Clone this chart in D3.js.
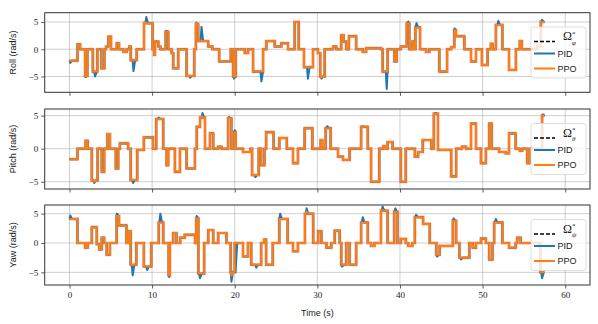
<!DOCTYPE html>
<html>
<head>
<meta charset="utf-8">
<script src="https://cdn.jsdelivr.net/npm/d3@7"></script>
<style>
  body { margin: 0; background: #fff; }
  svg { display: block; }
</style>
</head>
<body>
<div id="chart"></div>
<script>
// Reference set-points: [time (s), rate (rad/s)] held until the next entry
const rollRef = [
  [0, -2.1], [0.97, 0.9], [1.29, 0], [1.89, -4.9], [2.17, 0], [2.82, -4.1], [3.38, 0],
  [3.86, -3.5], [4.23, 0], [4.43, 0.5], [4.71, 2.3], [5.03, 0], [5.72, 1.1], [6.0, 0],
  [6.52, -0.5], [6.92, 0], [7.25, 0.5], [7.41, -2.0], [8.13, 0], [9.02, 4.75], [10.06, 0],
  [10.23, -1.0], [10.35, 1.4], [10.75, 0.5], [11.0, 0], [11.63, 3.2], [11.96, 0],
  [12.36, -0.7], [12.56, -3.5], [13.16, 0], [14.17, -4.9], [15.1, 0], [15.3, 4.6],
  [15.58, 1.5], [16.79, 0.5], [17.3, 0], [18.12, -2.25], [19.52, 0], [19.81, -5.0],
  [20.13, 0], [21.22, -0.7], [21.62, 0], [22.22, -4.1], [23.43, 0], [23.83, 1.5],
  [24.84, 0.5], [25.64, 1.1], [26.45, 0], [27.25, 5.0], [27.74, 0], [28.38, -3.3],
  [29.47, 0], [30.07, -0.7], [30.35, -5.0], [30.88, 0], [31.9, 0.5], [32.3, 0],
  [32.89, 2.6], [33.17, 1.4], [33.5, 0], [33.82, 2.4], [34.7, 0], [35.5, -0.5],
  [35.9, 0.2], [37.7, 0], [37.9, -4.1], [38.5, 0], [39.33, -2.25], [39.6, 0], [40.1, 0.5],
  [40.82, 4.75], [41.14, 0], [41.5, 1.4], [41.7, 0], [41.87, 4.0], [42.43, 0],
  [43.16, -0.5], [43.56, 0], [44.77, -4.1], [45.7, 0], [46.2, 0.4], [46.58, 3.5],
  [46.78, 2.4], [47.79, 0], [48.6, -2.25], [49.2, 0], [49.92, -2.9], [50.6, 0],
  [51.0, 1.0], [51.2, 0], [51.61, 4.45], [52.4, 0], [53.2, -3.8], [54.03, 0],
  [54.5, 1.5], [54.75, 0], [56.6, 0.5], [57.05, 5.0]
];
const pitchRef = [
  [0, -1.6], [0.97, 0], [1.95, 1.2], [2.2, 0], [2.7, -4.8], [3.4, 0], [3.9, -3.5],
  [4.2, 0], [4.6, 2.2], [4.9, 0], [5.6, -3.0], [5.9, 0], [6.1, 0.8], [7.1, 0],
  [7.4, -4.75], [8.2, -0.2], [9.0, 1.7], [10.1, 0], [10.5, 4.5], [11.35, 0],
  [11.75, -2.5], [11.95, 0], [12.76, -3.5], [13.37, 0], [14.17, -3.0], [15.18, 0],
  [15.4, 3.3], [15.8, 4.7], [16.4, 0], [17.0, 2.3], [17.4, 0], [18.0, 0.3], [18.4, 0],
  [19.2, 4.6], [19.6, 0], [19.95, 2.5], [20.1, 0], [21.0, -0.5], [21.9, 0],
  [22.1, -4.0], [22.9, 0], [23.2, -2.5], [23.6, 0], [23.8, 2.5], [24.7, 0],
  [25.4, 1.6], [26.3, 0], [27.05, -2.2], [27.65, 0], [28.46, 3.1], [29.4, 0],
  [30.4, 1.3], [30.6, 0], [31.0, 3.1], [31.6, 0], [32.5, -1.2], [33.1, -1.7], [33.9, 0],
  [35.3, 3.3], [36.1, 0], [36.5, -5.0], [37.5, 0], [38.0, 0.4], [38.3, 0], [38.5, 1.0],
  [39.1, 0], [40.1, -5.0], [40.7, 0], [41.8, -1.2], [42.2, -0.5], [42.75, 1.3],
  [43.8, 0], [44.1, 5.3], [44.6, -0.2], [46.2, -4.2], [46.8, 0], [47.5, 0.3], [48.0, 0],
  [48.6, 3.8], [49.2, 0], [49.8, -2.2], [50.4, 0], [50.8, 3.8], [51.1, 0], [52.0, -0.5],
  [52.8, -0.7], [53.2, 2.3], [54.0, 0], [54.5, -0.3], [54.8, 0], [55.4, -2.2],
  [55.7, 0], [57.2, 5.0]
];
const yawRef = [
  [0, 4.1], [0.97, 0], [1.9, -0.8], [2.2, 0], [2.7, 2.7], [3.3, -0.2], [3.6, -1.1],
  [3.9, 0.9], [4.2, 0], [4.5, -2.0], [4.9, 0], [5.7, 4.6], [6.0, 3.0], [6.9, 0],
  [7.15, 2.0], [7.4, -3.7], [8.1, 0], [9.0, -4.0], [9.9, 0], [10.8, 3.5], [11.35, 0],
  [12.0, -5.5], [12.15, 0], [12.55, 1.7], [12.95, 0], [13.4, 0.9], [13.95, 1.4],
  [15.2, 0], [15.35, 4.2], [15.6, -5.2], [16.3, 0], [16.8, 2.2], [17.4, 0], [18.0, 1.7],
  [19.0, 0], [19.5, -4.9], [20.0, 0], [21.0, -2.3], [21.6, 0], [22.0, -3.7], [23.2, 0],
  [23.55, 0.6], [23.8, -3.7], [24.6, 0], [25.4, 4.1], [26.4, 0], [27.05, -1.4],
  [27.65, 0], [28.5, 5.0], [29.5, 0], [30.1, 2.0], [30.5, 0], [31.1, -0.8], [31.7, 0],
  [32.1, 2.1], [32.7, 0], [32.9, -3.7], [33.5, 0], [33.9, -3.7], [34.7, 0], [35.3, 3.5],
  [36.1, 0], [36.5, -0.5], [36.9, 0], [37.7, 5.5], [38.5, 0], [39.3, 5.3], [39.7, 0],
  [40.1, 0.7], [40.7, 0], [41.0, -0.5], [41.5, 0], [41.8, 4.4], [42.8, 3.25], [43.6, 0],
  [44.4, -2.0], [44.8, -0.5], [46.4, 3.8], [46.8, 0], [47.2, -2.5], [48.4, 0],
  [48.8, -0.8], [49.2, 0], [49.8, 0.75], [50.4, 0], [50.8, -2.85], [51.2, 0],
  [51.4, 3.5], [52.4, 0], [53.2, -0.8], [54.0, 0], [54.2, 0.9], [54.6, 0], [57.0, -5.0]
];
const tEnd = 57.5;

// Overshoot peaks of each controller: [time (s), peak rate (rad/s)]
const rollPID = [
  [0.1, -2.5], [1.95, -5.1], [3.1, -5.0], [7.75, -4.0], [9.3, 5.9], [11.7, 3.4],
  [14.6, -5.2], [15.35, 4.9], [15.98, 4.1], [19.9, -5.4], [23.23, -5.9], [28.86, -5.4],
  [30.5, -5.4], [38.4, -7.3], [41.0, 5.1], [42.0, 4.8], [46.6, 3.8], [51.9, 5.2],
  [57.2, 5.4]
];
const rollPPO = [[9.1, 5.0], [15.35, 4.8], [30.4, -5.2]];
const pitchPID = [
  [3.0, -5.2], [7.7, -5.2], [10.8, 4.7], [16.1, 5.4], [19.3, 4.8], [20.0, 2.8],
  [22.5, -4.3], [31.2, 3.4], [35.5, 3.4], [44.3, 5.4], [57.3, 5.2]
];
const pitchPPO = [[3.0, -5.0], [16.0, 4.9]];
const yawPID = [
  [0.1, 4.7], [5.75, 5.0], [7.65, -5.5], [9.4, -4.6], [11.0, 5.0], [12.05, -5.8],
  [15.4, 4.6], [15.8, -6.0], [19.6, -6.6], [20.1, -5.0], [22.6, -4.2], [25.5, 5.0],
  [28.7, 5.9], [33.0, -4.0], [35.5, 4.4], [37.9, 6.2], [39.45, 5.9], [41.95, 4.8],
  [44.5, -2.3], [46.5, 4.2], [47.4, -2.8], [51.6, 4.1], [57.2, -6.0]
];
const yawPPO = [[28.7, 5.3], [37.9, 5.6], [19.6, -5.6]];

const xTicks = [0, 10, 20, 30, 40, 50, 60];
const yTicks = [-5, 0, 5];

const panels = [
  { label: "Roll (rad/s)", sub: "\u03C6", ref: rollRef, pid: rollPID, ppo: rollPPO, yDomain: [-7.9, 6.7], top: 12.7, bottom: 92.3 },
  { label: "Pitch (rad/s)", sub: "\u03B8", ref: pitchRef, pid: pitchPID, ppo: pitchPPO, yDomain: [-6.1, 6.0], top: 109, bottom: 189 },
  { label: "Yaw (rad/s)", sub: "\u03C8", ref: yawRef, pid: yawPID, ppo: yawPPO, yDomain: [-7.15, 6.47], top: 205, bottom: 285 }
];

const W = 598, H = 324;
const left = 44.7, right = 590;
const serif = "'Liberation Serif', 'DejaVu Serif', serif";
const sans = "'Liberation Sans', 'DejaVu Sans', sans-serif";
const blue = "#1f77b4", orange = "#ff7f0e";

const svg = d3.select("#chart").append("svg")
  .attr("width", W).attr("height", H);

const x = d3.scaleLinear().domain([-3, 63]).range([left, right]);

// value of a step series at time t
function stepAt(steps, t) {
  let v = steps[0][1];
  for (const s of steps) { if (s[0] <= t) v = s[1]; else break; }
  return v;
}

// corners of the step series
function stepPoints(steps) {
  const pts = [];
  steps.forEach((s, i) => {
    if (i > 0) pts.push([s[0], steps[i - 1][1]]);
    pts.push([s[0], s[1]]);
  });
  pts.push([tEnd, steps[steps.length - 1][1]]);
  return pts;
}

// step series with overshoot peaks added
function responsePoints(steps, peaks) {
  const pts = stepPoints(steps).map((p, i) => ({ t: p[0], v: p[1], k: i }));
  let k = pts.length;
  peaks.forEach(p => {
    pts.push({ t: p[0] - 0.12, v: stepAt(steps, p[0] - 0.12), k: k++ });
    pts.push({ t: p[0], v: p[1], k: k++ });
    pts.push({ t: p[0] + 0.2, v: stepAt(steps, p[0] + 0.2), k: k++ });
  });
  pts.sort((a, b) => a.t - b.t || a.k - b.k);
  return pts.map(p => [p.t, p.v]);
}

panels.forEach((p, i) => {
  const y = d3.scaleLinear().domain(p.yDomain).range([p.bottom, p.top]);
  const g = svg.append("g");

  // grid
  g.append("g").selectAll("line").data(xTicks).join("line")
    .attr("x1", d => x(d)).attr("x2", d => x(d))
    .attr("y1", p.top).attr("y2", p.bottom)
    .attr("stroke", "#b0b0b0").attr("stroke-opacity", 0.6).attr("stroke-width", 1);
  g.append("g").selectAll("line").data(yTicks).join("line")
    .attr("x1", left).attr("x2", right)
    .attr("y1", d => y(d)).attr("y2", d => y(d))
    .attr("stroke", "#b0b0b0").attr("stroke-opacity", 0.6).attr("stroke-width", 1);

  const clipId = "clip" + i;
  svg.append("clipPath").attr("id", clipId).append("rect")
    .attr("x", left).attr("y", p.top).attr("width", right - left).attr("height", p.bottom - p.top);

  const line = d3.line().x(d => x(d[0])).y(d => y(d[1]));
  const plot = g.append("g").attr("clip-path", `url(#${clipId})`);
  const refPts = stepPoints(p.ref);

  plot.append("path").attr("d", line(refPts)).attr("fill", "none")
    .attr("stroke", "#e8474a").attr("stroke-opacity", 0.45).attr("stroke-width", 3.2);
  plot.append("path").attr("d", line(refPts)).attr("fill", "none")
    .attr("stroke", "#000").attr("stroke-width", 1.2).attr("stroke-dasharray", "4,2");
  plot.append("path").attr("d", line(responsePoints(p.ref, p.pid))).attr("fill", "none")
    .attr("stroke", blue).attr("stroke-width", 2).attr("stroke-linejoin", "round");
  plot.append("path").attr("d", line(responsePoints(p.ref, p.ppo))).attr("fill", "none")
    .attr("stroke", orange).attr("stroke-width", 2).attr("stroke-linejoin", "round");

  // axes
  const xAxis = g.append("g").attr("transform", `translate(0,${p.bottom})`)
    .call(d3.axisBottom(x).tickValues(xTicks).tickSize(3.5).tickPadding(3)
      .tickFormat(i === panels.length - 1 ? d3.format("d") : ""));
  const yAxis = g.append("g").attr("transform", `translate(${left},0)`)
    .call(d3.axisLeft(y).tickValues(yTicks).tickSize(3.5).tickPadding(3)
      .tickFormat(d => d < 0 ? "\u2212" + Math.abs(d) : d));
  [xAxis, yAxis].forEach(a => {
    a.select(".domain").remove();
    a.selectAll(".tick line").attr("stroke", "#333").attr("stroke-width", 0.8);
    a.selectAll(".tick text").attr("font-family", serif).attr("font-size", 9).attr("fill", "#222");
  });

  // frame
  g.append("rect").attr("x", left).attr("y", p.top)
    .attr("width", right - left).attr("height", p.bottom - p.top)
    .attr("fill", "none").attr("stroke", "#333").attr("stroke-width", 1);

  // y label
  g.append("text")
    .attr("transform", `translate(16,${(p.top + p.bottom) / 2}) rotate(-90)`)
    .attr("text-anchor", "middle").attr("font-family", sans).attr("font-size", 9)
    .attr("fill", "#222").text(p.label);

  // legend
  const mid = (p.top + p.bottom) / 2;
  const lg = g.append("g").attr("transform", `translate(531,${mid - 25.5})`);
  lg.append("rect").attr("width", 55).attr("height", 51).attr("rx", 2.5)
    .attr("fill", "#fff").attr("fill-opacity", 0.8)
    .attr("stroke", "#d5d5d5").attr("stroke-width", 0.8);
  const rows = [
    { y: 14.5, stroke: "#000", dash: "4,2" },
    { y: 26.5, stroke: blue, dash: null, text: "PID" },
    { y: 41.5, stroke: orange, dash: null, text: "PPO" }
  ];
  rows.forEach(r => {
    lg.append("line").attr("x1", 3).attr("x2", 24).attr("y1", r.y).attr("y2", r.y)
      .attr("stroke", r.stroke).attr("stroke-width", r.dash ? 1.3 : 2)
      .attr("stroke-dasharray", r.dash);
    if (r.text) {
      lg.append("text").attr("x", 26.5).attr("y", r.y + 3.3)
        .attr("font-family", sans).attr("font-size", 9).attr("fill", "#222").text(r.text);
    }
  });
  const om = lg.append("text").attr("x", 32).attr("y", 13)
    .attr("font-family", serif).attr("font-size", 12).attr("fill", "#222");
  om.append("tspan").text("\u03A9");
  om.append("tspan").attr("dy", -4.5).attr("font-size", 7).text("*");
  om.append("tspan").attr("dx", -3.5).attr("dy", 9).attr("font-size", 7)
    .attr("font-style", "italic").text(p.sub);
});

// x label
svg.append("text").attr("x", x(30)).attr("y", 316)
  .attr("text-anchor", "middle").attr("font-family", sans).attr("font-size", 9)
  .attr("fill", "#222").text("Time (s)");
</script>
</body>
</html>
